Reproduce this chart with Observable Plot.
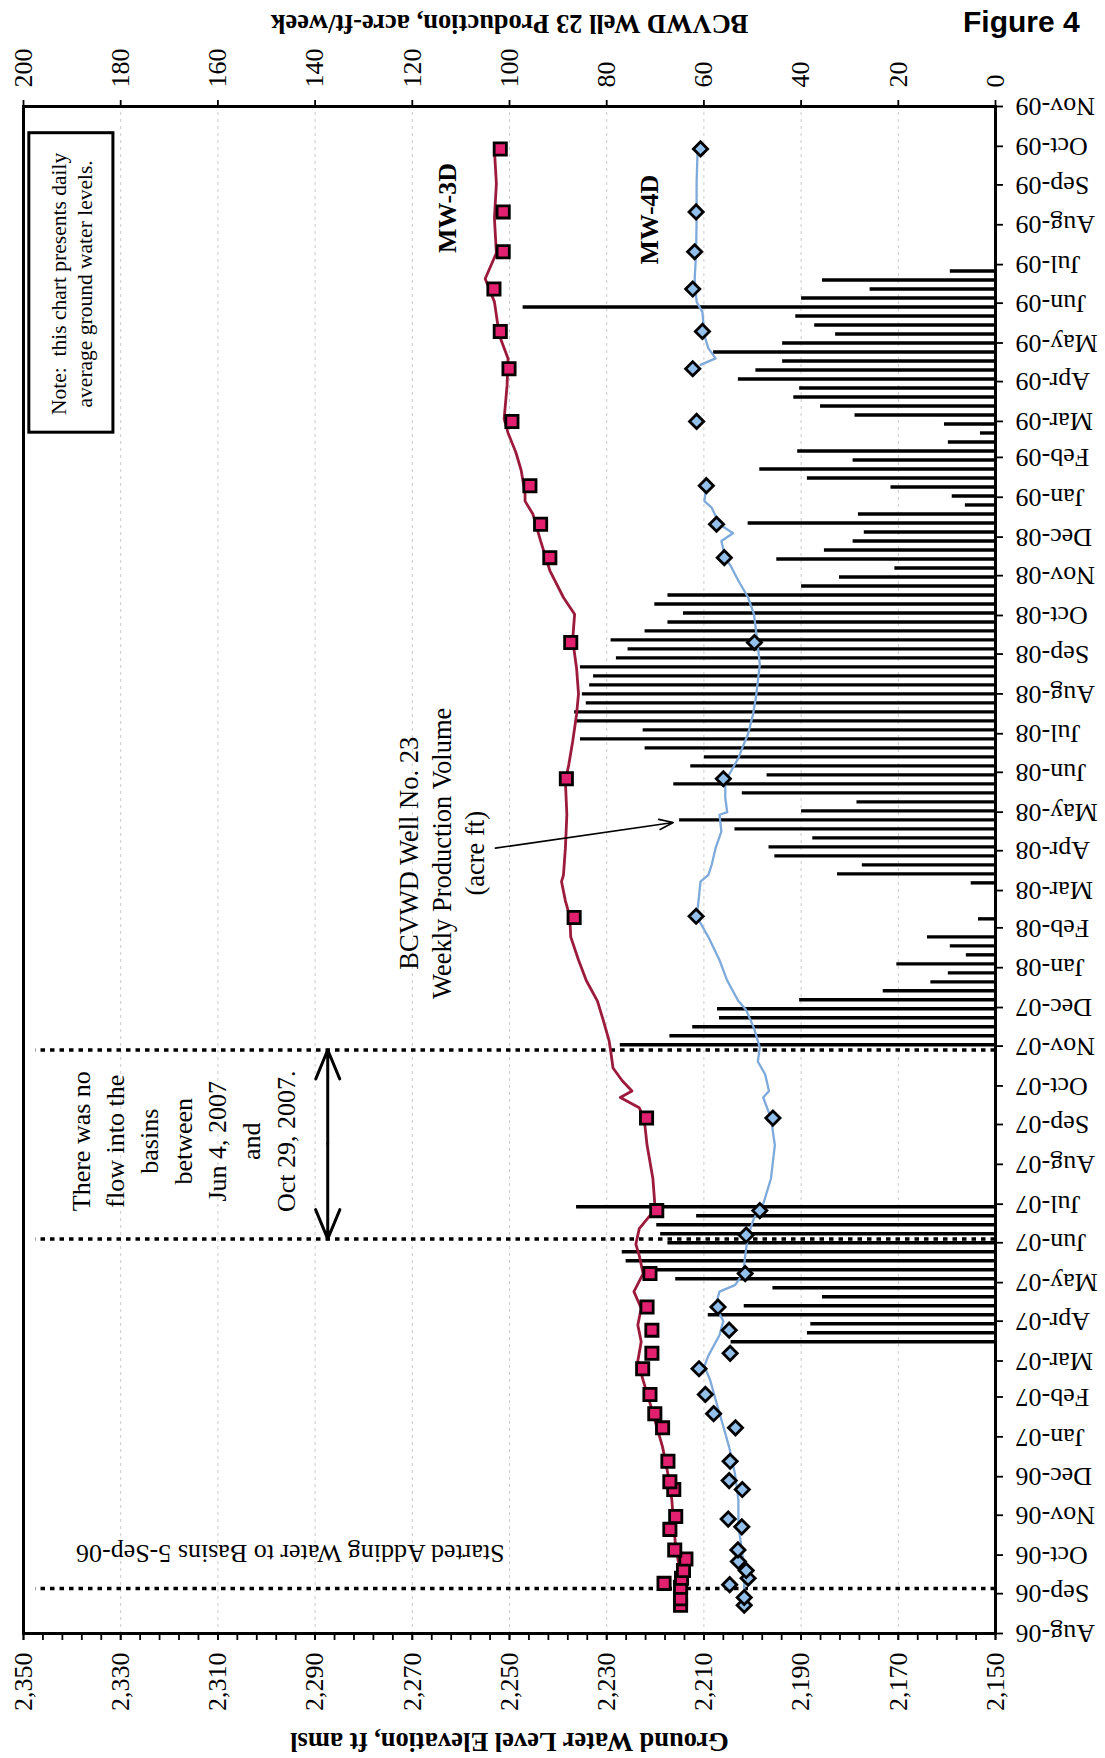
<!DOCTYPE html>
<html>
<head>
<meta charset="utf-8">
<script src="https://cdn.jsdelivr.net/npm/d3@7"></script>
<script src="https://cdn.jsdelivr.net/npm/@observablehq/plot@0.6"></script>
<style>
html, body { margin:0; padding:0; background:#fff; }
#page { position:relative; width:1105px; height:1758px; overflow:hidden; background:#fff; }
#rot { position:absolute; left:0; top:0; width:1758px; height:1105px; transform-origin:0 0; transform: translate(0px, 1758px) rotate(-90deg); z-index:1; }
#fig { position:absolute; left:963px; top:7px; font-family:"Liberation Sans", Arial, sans-serif; font-weight:bold; font-size:30px; line-height:1; z-index:5; background:#fff; }
</style>
</head>
<body>
<div id="page"><div id="rot"></div><div id="fig">Figure 4</div></div>
<script>
// ---------- data ----------
const elevTicks = [2150, 2170, 2190, 2210, 2230, 2250, 2270, 2290, 2310, 2330, 2350];
const prodTickLabels = [0, 20, 40, 60, 80, 100, 120, 140, 160, 180, 200];
const dateStart = "2006-08-01";
const dateEnd = "2009-11-01";

// weekly production of BCVWD Well 23 (acre-ft/week)
const prod2007Start = "2007-03-16";
const prod2007 = [54.4, 38.7, 38.0, 59.1, 51.7, 35.6, 45.8, 65.8, 71.7, 76.0, 76.8, 67.4, 68.9, 69.7, 61.5, 86.2];
const prod0709Start = "2007-11-02";
const prod0709 = [
  77.2, 67.0, 62.3, 56.8, 57.2, 40.3, 23.1, 13.3, 9.7, 20.3, 6.0, 9.3, 14.0, 0, 3.5, 0, 0, 0, 5.0,
  32.5, 27.4, 45.4, 46.6, 37.6, 53.6, 65.0, 39.9, 28.5, 52.1, 66.2, 47.0, 62.7, 59.9, 72.1, 85.4,
  72.5, 86.2, 86.6, 84.2, 85.0, 83.5, 82.7, 85.4, 78.0, 75.6, 79.1, 72.1, 67.4, 64.2, 70.1, 67.4,
  39.9, 32.1, 20.7, 45.0, 35.2, 29.3, 27.0, 50.9, 28.2, 6.2, 8.9,
  21.5, 38.7, 48.5, 29.3, 40.7, 9.7, 3.1, 10.5, 28.9, 36.0, 41.5, 40.3, 52.9, 49.3, 43.8, 58.0,
  43.8, 32.9, 37.2, 41.1, 97.2, 39.9, 25.8, 35.6, 9.3
];

// MW-3D daily average level (ft amsl)
const mw3Line = [
  ["2006-08-25", 2214.8], ["2006-09-06", 2215.0], ["2006-09-21", 2215.0], ["2006-10-07", 2215.8],
  ["2006-10-24", 2216.2], ["2006-11-13", 2216.6], ["2006-12-03", 2217.4], ["2006-12-24", 2218.5],
  ["2007-01-09", 2219.7], ["2007-01-30", 2221.3], ["2007-02-14", 2222.5], ["2007-03-01", 2223.6],
  ["2007-03-16", 2222.9], ["2007-03-29", 2223.6], ["2007-04-11", 2222.9], ["2007-04-24", 2224.4],
  ["2007-05-08", 2222.5], ["2007-05-22", 2223.3], ["2007-05-31", 2224.0], ["2007-06-12", 2223.3],
  ["2007-06-23", 2220.9], ["2007-07-01", 2220.1], ["2007-07-21", 2220.5], ["2007-08-16", 2221.7],
  ["2007-09-06", 2222.3], ["2007-09-14", 2223.3], ["2007-09-22", 2227.2], ["2007-09-27", 2224.8],
  ["2007-10-05", 2226.8], ["2007-10-15", 2228.7], ["2007-10-26", 2229.1], ["2007-11-05", 2229.5],
  ["2007-11-21", 2230.7], ["2007-12-06", 2231.9], ["2007-12-22", 2234.2], ["2008-01-07", 2235.8],
  ["2008-01-25", 2237.4], ["2008-02-10", 2237.6], ["2008-02-22", 2238.5], ["2008-03-08", 2239.3],
  ["2008-03-13", 2238.9], ["2008-04-03", 2238.5], ["2008-04-29", 2238.2], ["2008-05-25", 2238.5],
  ["2008-06-07", 2237.8], ["2008-06-25", 2237.0], ["2008-07-16", 2236.2], ["2008-08-01", 2235.8],
  ["2008-08-21", 2236.2], ["2008-09-12", 2237.0], ["2008-10-02", 2236.6], ["2008-10-15", 2238.9],
  ["2008-11-05", 2241.7], ["2008-11-28", 2243.6], ["2008-12-19", 2245.2], ["2008-12-29", 2246.8],
  ["2009-01-04", 2246.8], ["2009-01-22", 2247.6], ["2009-02-05", 2248.7], ["2009-02-20", 2250.3],
  ["2009-03-03", 2251.1], ["2009-03-29", 2250.5], ["2009-04-19", 2250.3], ["2009-05-07", 2252.1],
  ["2009-06-02", 2253.1], ["2009-06-20", 2255.0], ["2009-07-10", 2252.7], ["2009-08-06", 2253.1],
  ["2009-09-02", 2252.7], ["2009-09-28", 2253.1]
];
// MW-3D manual measurements
const mw3Points = [
  ["2006-08-23", 2214.8], ["2006-08-28", 2214.8], ["2006-09-06", 2214.8], ["2006-09-09", 2218.2],
  ["2006-09-13", 2214.6], ["2006-09-19", 2214.2], ["2006-09-28", 2213.7], ["2006-10-05", 2216.0],
  ["2006-10-21", 2217.0], ["2006-10-31", 2215.8], ["2006-11-21", 2216.2], ["2006-11-27", 2217.0],
  ["2006-12-13", 2217.4], ["2007-01-08", 2218.5], ["2007-01-19", 2220.1], ["2007-02-03", 2221.1],
  ["2007-02-23", 2222.6], ["2007-03-07", 2220.7], ["2007-03-25", 2220.7], ["2007-04-12", 2221.7],
  ["2007-05-08", 2221.1], ["2007-06-26", 2219.7], ["2007-09-06", 2221.8], ["2008-02-09", 2236.7],
  ["2008-05-27", 2238.3], ["2008-09-10", 2237.4], ["2008-11-15", 2241.7], ["2008-12-11", 2243.6],
  ["2009-01-10", 2245.8], ["2009-03-01", 2249.5], ["2009-04-11", 2250.1], ["2009-05-10", 2251.9],
  ["2009-06-12", 2253.2], ["2009-07-11", 2251.3], ["2009-08-11", 2251.3], ["2009-09-29", 2251.9]
];

// MW-4D daily average level (ft amsl); null = no record
const mw4Line = [
  ["2006-08-25", 2201.7], ["2006-09-21", 2201.7], ["2006-10-24", 2202.9], ["2006-11-13", 2202.9],
  ["2006-12-03", 2203.6], ["2006-12-24", 2204.8], ["2007-01-09", 2206.0], ["2007-01-30", 2207.6],
  ["2007-02-14", 2208.7], ["2007-02-25", 2209.9], ["2007-03-05", 2209.1], ["2007-03-21", 2206.8],
  ["2007-04-01", 2206.0], ["2007-04-13", 2207.6], ["2007-04-24", 2206.8], ["2007-04-29", 2203.6],
  ["2007-05-08", 2201.9], ["2007-05-22", 2201.5], ["2007-06-07", 2200.9], ["2007-06-20", 2199.7],
  ["2007-07-01", 2197.8], ["2007-07-21", 2196.2], ["2007-08-16", 2195.4], ["2007-09-06", 2196.2],
  ["2007-09-22", 2197.8], ["2007-09-27", 2196.6], ["2007-10-10", 2197.4], ["2007-10-20", 2198.9],
  ["2007-10-31", 2198.5], ["2007-11-15", 2199.7], ["2007-11-29", 2201.3], ["2007-12-06", 2202.9],
  ["2007-12-22", 2205.2], ["2008-01-07", 2206.8], ["2008-01-25", 2209.1], ["2008-02-10", 2211.5],
  ["2008-02-22", 2211.1], ["2008-03-08", 2210.7], ["2008-03-13", 2209.1], ["2008-03-21", 2208.4],
  ["2008-04-03", 2207.6], ["2008-04-16", 2206.4], ["2008-04-29", 2206.8], ["2008-05-01", 2205.2],
  ["2008-05-12", 2205.6], ["2008-05-25", 2205.6], ["2008-06-02", 2204.4], ["2008-06-12", 2202.9],
  ["2008-06-20", 2202.1], ["2008-07-01", 2200.9], ["2008-07-16", 2199.9], ["2008-07-29", 2199.3],
  ["2008-08-11", 2198.9], ["2008-08-24", 2198.5], ["2008-09-07", 2198.9], ["2008-09-20", 2199.3],
  ["2008-10-02", 2199.7], ["2008-10-15", 2200.9], ["2008-10-28", 2202.9], ["2008-11-08", 2204.4],
  ["2008-11-15", 2205.6], ["2008-11-28", 2206.4], ["2008-12-04", 2204.0], ["2008-12-11", 2206.8],
  ["2008-12-24", 2208.4], ["2008-12-29", 2209.9], ["2009-01-09", 2209.5], ["2009-02-20", null],
  ["2009-04-14", 2210.7], ["2009-04-19", 2207.6], ["2009-04-27", 2209.1], ["2009-05-07", 2209.9],
  ["2009-05-25", 2210.3], ["2009-06-02", 2211.5], ["2009-06-20", 2211.9], ["2009-07-10", 2211.6],
  ["2009-08-06", 2211.5], ["2009-09-02", 2211.5], ["2009-09-28", 2211.3]
];
// MW-4D manual measurements
const mw4Points = [
  ["2006-08-23", 2201.7], ["2006-08-29", 2201.7], ["2006-09-08", 2204.7], ["2006-09-13", 2200.9],
  ["2006-09-19", 2201.3], ["2006-09-26", 2202.9], ["2006-10-05", 2203.0], ["2006-10-23", 2202.2],
  ["2006-10-29", 2205.0], ["2006-11-21", 2202.1], ["2006-11-28", 2204.8], ["2006-12-13", 2204.6],
  ["2007-01-08", 2203.5], ["2007-01-19", 2208.0], ["2007-02-03", 2209.7], ["2007-02-23", 2211.0],
  ["2007-03-07", 2204.6], ["2007-03-25", 2204.8], ["2007-04-12", 2207.1], ["2007-05-08", 2201.5],
  ["2007-06-07", 2201.3], ["2007-06-26", 2198.5], ["2007-09-06", 2195.8], ["2008-02-10", 2211.6],
  ["2008-05-27", 2206.0], ["2008-09-10", 2199.6], ["2008-11-15", 2205.8], ["2008-12-11", 2207.4],
  ["2009-01-10", 2209.5], ["2009-03-01", 2211.5], ["2009-04-11", 2212.3], ["2009-05-10", 2210.3],
  ["2009-06-12", 2212.3], ["2009-07-11", 2211.9], ["2009-08-11", 2211.6], ["2009-09-29", 2210.7]
];

// event dates (dotted lines)
const eventDates = ["2006-09-05", "2007-06-04", "2007-10-29"];

// ---------- build ----------
const parse = d3.utcParse("%Y-%m-%d");
const base = 2150;
const pts = arr => arr.map(([d, v]) => ({date: parse(d), elev: v}));
const bars = [
  ...prod2007.map((v, i) => ({date: d3.utcDay.offset(parse(prod2007Start), 7 * i), af: v})),
  ...prod0709.map((v, i) => ({date: d3.utcDay.offset(parse(prod0709Start), 7 * i), af: v}))
];
const monthTicks = d3.utcMonth.range(parse(dateStart), d3.utcDay.offset(parse(dateEnd), 1));
const minorTicks = d3.range(2150, 2351, 4);
const serif = "'Liberation Serif', 'Times New Roman', serif";
const one = [0];

const W = 1758, H = 1105;
const chart = Plot.plot({
  width: W, height: H,
  marginLeft: 124, marginRight: 107, marginTop: 23, marginBottom: 110,
  style: {fontFamily: serif, background: "white", color: "black", overflow: "visible"},
  x: {type: "utc", domain: [parse(dateStart), parse(dateEnd)]},
  y: {domain: [2150, 2350]},
  marks: [
    Plot.gridY(elevTicks.slice(1, -1), {stroke: "#cccccc", strokeOpacity: 1, strokeDasharray: "3,4"}),
    // production bars (secondary axis: 0 acre-ft at 2150)
    Plot.ruleX(bars, {x: "date", y1: () => base, y2: d => base + d.af, stroke: "black", strokeWidth: 3.4}),
    // dotted event lines
    Plot.ruleX(eventDates, {x: d => parse(d), y1: () => 2150, y2: () => 2347.5, stroke: "black", strokeWidth: 3.5, strokeDasharray: "4.5,5"}),
    // lines
    Plot.line(pts(mw4Line), {x: "date", y: "elev", stroke: "#7eaadb", strokeWidth: 2.3}),
    Plot.line(pts(mw3Line), {x: "date", y: "elev", stroke: "#9c1a3c", strokeWidth: 2.8}),
    Plot.dot(pts(mw4Points), {x: "date", y: "elev", symbol: "diamond2", r: 6.4, fill: "#93c0ea", stroke: "black", strokeWidth: 2.8}),
    Plot.dot(pts(mw3Points), {x: "date", y: "elev", symbol: "square", r: 6.9, fill: "#e2206f", stroke: "black", strokeWidth: 2.8}),
    // axes
    Plot.axisY(minorTicks, {anchor: "left", tickSize: 6, strokeWidth: 1.8, fill: "none", label: null}),
    Plot.axisY(elevTicks, {anchor: "left", tickSize: 6, tickPadding: 13, strokeWidth: 1.8, tickFormat: d3.format(","), fontSize: 26, label: null}),
    Plot.axisY(elevTicks, {anchor: "right", tickSize: 6, tickPadding: 13, strokeWidth: 1.8, tickFormat: (d, i) => String(prodTickLabels[i]), fontSize: 26, label: null}),
    Plot.axisX(monthTicks, {anchor: "bottom", tickSize: 8, tickPadding: 12, strokeWidth: 1.8, tickRotate: -90, tickFormat: d3.utcFormat("%b-%y"), fontSize: 26, label: null}),
    Plot.frame({stroke: "black", strokeWidth: 3}),
    // axis titles
    Plot.text(["Ground Water Level Elevation, ft amsl"], {text: d => d, frameAnchor: "left", textAnchor: "middle", dx: 16 - 124, rotate: -90, fontSize: 26.5, fontWeight: "bold"}),
    Plot.text(["BCVWD Well 23 Production, acre-ft/week"], {text: d => d, frameAnchor: "right", textAnchor: "middle", dx: 83, rotate: -90, fontSize: 26.5, fontWeight: "bold"}),
    // note box
    Plot.rect(one, {x1: () => parse("2009-02-21"), x2: () => parse("2009-10-12"), y1: () => 2331.5, y2: () => 2348.8, fill: "white", stroke: "black", strokeWidth: 3}),
    Plot.text(["Note:  this chart presents daily\naverage ground water levels."], {text: d => d, x: () => parse("2009-06-16"), y: () => 2340.3, fontSize: 21.5, lineHeight: 1.21}),
    // series labels
    Plot.text(["MW-3D"], {text: d => d, x: () => parse("2009-08-14"), y: () => 2262.8, fontSize: 26, fontWeight: "bold"}),
    Plot.text(["MW-4D"], {text: d => d, x: () => parse("2009-08-05"), y: () => 2221.2, fontSize: 26, fontWeight: "bold"}),
    // production callout
    Plot.text(["BCVWD Well No. 23\nWeekly Production Volume\n(acre ft)"], {text: d => d, x: () => parse("2008-03-30"), y: () => 2264.2, fontSize: 26.5, lineHeight: 1.23}),
    Plot.arrow(one, {x1: () => parse("2008-04-03"), y1: () => 2252.9, x2: () => parse("2008-04-23"), y2: () => 2216.3, stroke: "black", strokeWidth: 1.6, headLength: 14, headAngle: 40}),
    // no-flow annotation
    Plot.text(["There was no\nflow into the\nbasins\nbetween\nJun 4, 2007\nand\nOct 29, 2007."], {text: d => d, x: () => parse("2007-08-19"), y: () => 2317.5, fontSize: 26, lineHeight: 1.31}),
    Plot.arrow(one, {x1: () => parse("2007-08-17"), y1: () => 2287.4, x2: () => parse(eventDates[1]), y2: () => 2287.4, stroke: "black", strokeWidth: 3, headLength: 16, headAngle: 45}),
    Plot.arrow(one, {x1: () => parse("2007-08-17"), y1: () => 2287.4, x2: () => parse(eventDates[2]), y2: () => 2287.4, stroke: "black", strokeWidth: 3, headLength: 16, headAngle: 45}),
    Plot.text(["Started Adding Water to Basins 5-Sep-06"], {text: d => d, x: () => parse("2006-10-02"), y: () => 2295.1, rotate: -90, fontSize: 26})
  ]
});
document.getElementById("rot").appendChild(chart);
</script>
</body>
</html>
